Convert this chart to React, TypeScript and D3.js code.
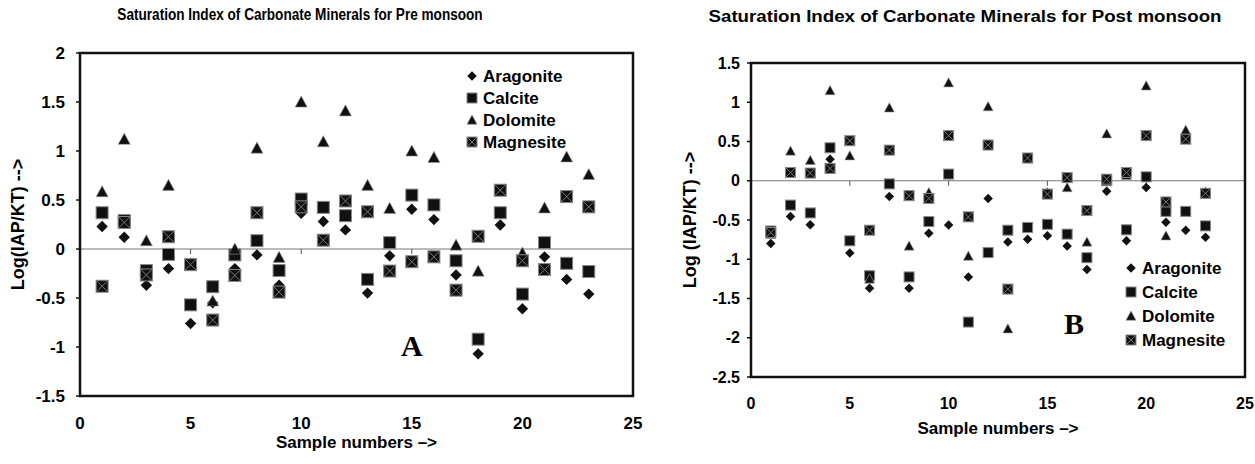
import * as d3 from 'd3';
import React, { useEffect, useRef } from 'react';

// sample numbers on the x axis
const samples = [1, 2, 3, 4, 5, 6, 7, 8, 9, 10, 11, 12, 13, 14, 15, 16, 17, 18, 19, 20, 21, 22, 23];

// pre monsoon saturation indices
const preAragonite = [0.23, 0.12, -0.37, -0.2, -0.76, -0.55, -0.2, -0.06, -0.37, 0.365, 0.28, 0.195, -0.45, -0.07, 0.405, 0.3, -0.265, -1.07, 0.245, -0.61, -0.08, -0.31, -0.46];
const preCalcite = [0.37, 0.29, -0.22, -0.055, -0.57, -0.385, -0.06, 0.085, -0.22, 0.51, 0.425, 0.34, -0.31, 0.065, 0.55, 0.45, -0.12, -0.92, 0.37, -0.46, 0.065, -0.146, -0.23];
const preDolomite = [0.585, 1.12, 0.085, 0.65, -0.15, -0.53, 0.0, 1.03, -0.085, 1.5, 1.095, 1.41, 0.65, 0.415, 1.0, 0.935, 0.04, -0.225, 0.6, -0.04, 0.42, 0.94, 0.76];
const preMagnesite = [-0.38, 0.27, -0.265, 0.125, -0.16, -0.725, -0.27, 0.37, -0.44, 0.43, 0.09, 0.49, 0.38, -0.225, -0.13, -0.08, -0.42, 0.13, 0.6, -0.12, -0.21, 0.535, 0.43];

// post monsoon saturation indices
const postAragonite = [-0.8, -0.455, -0.56, 0.275, -0.92, -1.37, -0.2, -1.37, -0.67, -0.565, -1.225, -0.225, -0.78, -0.745, -0.7, -0.83, -1.13, -0.135, -0.765, -0.085, -0.53, -0.63, -0.72];
const postCalcite = [-0.64, -0.31, -0.41, 0.42, -0.765, -1.21, -0.04, -1.225, -0.52, 0.085, -1.8, -0.915, -0.63, -0.595, -0.555, -0.68, -0.98, 0.0, -0.625, 0.05, -0.39, -0.39, -0.575];
const postDolomite = [-0.68, 0.38, 0.26, 1.15, 0.32, -1.25, 0.93, -0.83, -0.15, 1.25, -0.96, 0.945, -1.885, 0.28, -0.15, -0.085, -0.78, 0.6, 0.07, 1.21, -0.7, 0.645, -0.14];
const postMagnesite = [-0.66, 0.105, 0.098, 0.157, 0.51, -0.63, 0.39, -0.19, -0.225, 0.575, -0.46, 0.455, -1.38, 0.29, -0.17, 0.04, -0.38, 0.02, 0.105, 0.575, -0.27, 0.53, -0.16];

const seriesNames = ['Aragonite', 'Calcite', 'Dolomite', 'Magnesite'];
const xTicks = [0, 5, 10, 15, 20, 25];
const preYTicks = [-1.5, -1, -0.5, 0, 0.5, 1, 1.5, 2];
const postYTicks = [-2.5, -2, -1.5, -1, -0.5, 0, 0.5, 1, 1.5];

const FONT = '"Liberation Sans", Arial, sans-serif';

type Sel = d3.Selection<SVGGElement, unknown, null, undefined>;

function drawMarker(g: Sel, kind: string, cx: number, cy: number, s: number) {
    if (kind === 'Aragonite') {
        const d = s * 0.95;
        g.append('path')
            .attr('d', `M${cx},${cy - d}L${cx + d},${cy}L${cx},${cy + d}L${cx - d},${cy}Z`)
            .attr('fill', '#111');
    } else if (kind === 'Calcite') {
        g.append('rect')
            .attr('x', cx - s).attr('y', cy - s).attr('width', 2 * s).attr('height', 2 * s)
            .attr('fill', '#111').attr('stroke', '#888').attr('stroke-width', 1);
    } else if (kind === 'Dolomite') {
        g.append('path')
            .attr('d', `M${cx},${cy - s}L${cx + s},${cy + s * 0.85}L${cx - s},${cy + s * 0.85}Z`)
            .attr('fill', '#111').attr('stroke', '#999').attr('stroke-width', 0.6);
    } else {
        g.append('rect')
            .attr('x', cx - s).attr('y', cy - s).attr('width', 2 * s).attr('height', 2 * s)
            .attr('fill', '#111').attr('stroke', '#888').attr('stroke-width', 1);
        g.append('path')
            .attr('d', `M${cx - s},${cy - s}L${cx + s},${cy + s}M${cx + s},${cy - s}L${cx - s},${cy + s}`)
            .attr('stroke', '#777').attr('stroke-width', 1);
    }
}

interface PanelCfg {
    title: string;
    titleX: number;
    titleY: number;
    titleScale: number;
    x: d3.ScaleLinear<number, number>;
    y: d3.ScaleLinear<number, number>;
    yTicks: number[];
    values: number[][];
    yLabel: string;
    yLabelX: number;
    xTickY: number;
    xTitleY: number;
    yTickGap: number;
    tickSize: number;
    markSize: number;
    legendX: number;
    legendY: number;
    legendGap: number;
    letter: string;
    letterPos: [number, number];
}

function drawPanel(svg: Sel, c: PanelCfg) {
    const g = svg.append('g');
    const [x0, x1] = c.x.range();
    const [y0, y1] = c.y.range();

    g.append('text')
        .attr('transform', `translate(${c.titleX},${c.titleY}) scale(${c.titleScale},1)`)
        .attr('text-anchor', 'middle')
        .attr('font-family', FONT).attr('font-weight', 'bold').attr('font-size', 17)
        .text(c.title);

    // zero line with ticks
    g.append('line')
        .attr('x1', x0).attr('x2', x1).attr('y1', c.y(0)).attr('y2', c.y(0))
        .attr('stroke', '#777').attr('stroke-width', 1);
    g.selectAll('.xt').data(xTicks.slice(1, -1)).enter().append('line')
        .attr('x1', d => c.x(d)).attr('x2', d => c.x(d))
        .attr('y1', c.y(0)).attr('y2', c.y(0) + 5)
        .attr('stroke', '#555');

    // y ticks
    g.selectAll('.yt').data(c.yTicks).enter().append('line')
        .attr('x1', x0 - 4).attr('x2', x0)
        .attr('y1', d => c.y(d)).attr('y2', d => c.y(d))
        .attr('stroke', '#111').attr('stroke-width', 1.5);

    g.selectAll('.yl').data(c.yTicks).enter().append('text')
        .attr('x', x0 - c.yTickGap).attr('y', d => c.y(d)).attr('dy', '0.35em')
        .attr('text-anchor', 'end')
        .attr('font-family', FONT).attr('font-weight', 'bold').attr('font-size', c.tickSize)
        .text(d => String(d));

    g.selectAll('.xl').data(xTicks).enter().append('text')
        .attr('x', d => c.x(d)).attr('y', c.xTickY).attr('dy', '0.35em')
        .attr('text-anchor', 'middle')
        .attr('font-family', FONT).attr('font-weight', 'bold').attr('font-size', c.tickSize)
        .text(d => String(d));

    g.append('text')
        .attr('x', (x0 + x1) / 2).attr('y', c.xTitleY).attr('dy', '0.35em')
        .attr('text-anchor', 'middle')
        .attr('font-family', FONT).attr('font-weight', 'bold').attr('font-size', 17)
        .text('Sample numbers \u2013>');

    g.append('text')
        .attr('transform', `translate(${c.yLabelX},${(y0 + y1) / 2}) rotate(-90)`)
        .attr('dy', '0.35em')
        .attr('text-anchor', 'middle')
        .attr('font-family', FONT).attr('font-weight', 'bold').attr('font-size', 18)
        .text(c.yLabel);

    // series points
    c.values.forEach((vals, i) => {
        const sg = g.append('g');
        vals.forEach((v, j) => drawMarker(sg, seriesNames[i], c.x(samples[j]), c.y(v), c.markSize));
    });

    // plot frame
    g.append('rect')
        .attr('x', x0).attr('y', y1).attr('width', x1 - x0).attr('height', y0 - y1)
        .attr('fill', 'none').attr('stroke', '#111').attr('stroke-width', 2.5);

    // legend
    seriesNames.forEach((name, i) => {
        const ly = c.legendY + i * c.legendGap;
        const lg = g.append('g');
        drawMarker(lg, name, c.legendX, ly, 5);
        lg.append('text')
            .attr('x', c.legendX + 11).attr('y', ly).attr('dy', '0.35em')
            .attr('font-family', FONT).attr('font-weight', 'bold').attr('font-size', 17)
            .text(name);
    });

    g.append('text')
        .attr('x', c.x(c.letterPos[0])).attr('y', c.y(c.letterPos[1]))
        .attr('text-anchor', 'middle')
        .attr('font-family', '"Liberation Serif", "Times New Roman", serif')
        .attr('font-weight', 'bold').attr('font-size', 30)
        .text(c.letter);
}

const App: React.FC = () => {
    const ref = useRef<SVGSVGElement>(null);

    useEffect(() => {
        if (!ref.current) return;
        const root = d3.select(ref.current);
        root.selectAll('*').remove();
        const svg = root.append('g') as unknown as Sel;

        drawPanel(svg, {
            title: 'Saturation Index of Carbonate Minerals for Pre monsoon',
            titleX: 300,
            titleY: 20,
            titleScale: 0.8,
            x: d3.scaleLinear().domain([0, 25]).range([80, 633]),
            y: d3.scaleLinear().domain([-1.5, 2]).range([396, 53]),
            yTicks: preYTicks,
            values: [preAragonite, preCalcite, preDolomite, preMagnesite],
            yLabel: 'Log(IAP/KT) -->',
            yLabelX: 18,
            xTickY: 423,
            xTitleY: 442,
            yTickGap: 15,
            tickSize: 17,
            markSize: 6,
            legendX: 472,
            legendY: 76,
            legendGap: 22,
            letter: 'A',
            letterPos: [15, -1.09],
        });

        drawPanel(svg, {
            title: 'Saturation Index of Carbonate Minerals for Post monsoon',
            titleX: 965,
            titleY: 22,
            titleScale: 1.1,
            x: d3.scaleLinear().domain([0, 25]).range([751, 1245]),
            y: d3.scaleLinear().domain([-2.5, 1.5]).range([377, 63]),
            yTicks: postYTicks,
            values: [postAragonite, postCalcite, postDolomite, postMagnesite],
            yLabel: 'Log (IAP/KT) -->',
            yLabelX: 690,
            xTickY: 403,
            xTitleY: 428,
            yTickGap: 11,
            tickSize: 16,
            markSize: 5,
            legendX: 1131,
            legendY: 268,
            legendGap: 24,
            letter: 'B',
            letterPos: [16.35, -1.95],
        });
    }, []);

    return (
        <div style={{ position: 'absolute', left: 0, top: 0 }}>
            <svg ref={ref} width={1255} height={464} style={{ display: 'block', background: '#fff' }}></svg>
        </div>
    );
};

export default App;
